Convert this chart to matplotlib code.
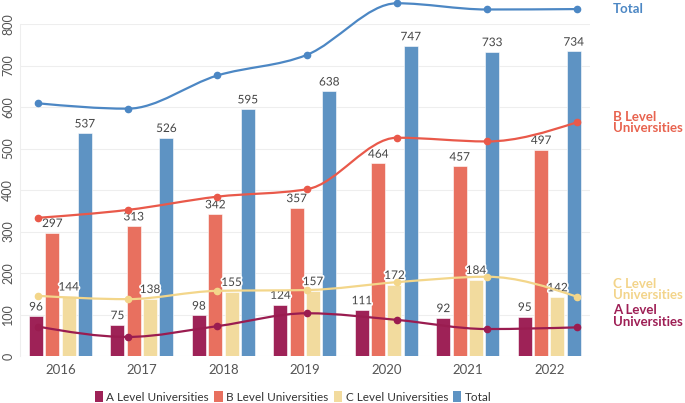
import numpy as np
import matplotlib
matplotlib.use("Agg")
import matplotlib.pyplot as plt
from matplotlib.path import Path
from matplotlib.patches import PathPatch, FancyBboxPatch
import matplotlib.patheffects as pe
import matplotlib.transforms as mtransforms
from matplotlib.patches import Patch

plt.rcParams['font.family'] = ['Lato', 'DejaVu Sans']

years = ['2016', '2017', '2018', '2019', '2020', '2021', '2022']
series_names = ['A Level Universities', 'B Level Universities', 'C Level Universities', 'Total']

# bar values
a_bars = [96, 75, 98, 124, 111, 92, 95]
b_bars = [297, 313, 342, 357, 464, 457, 497]
c_bars = [144, 138, 155, 157, 172, 184, 142]
total_bars = [537, 526, 595, 638, 747, 733, 734]

# line values (left axis units)
a_line = [71, 46, 72, 103, 87, 65, 69]
b_line = [333, 352, 384, 402, 526, 517, 563]
c_line = [145, 137, 157, 159, 178, 191, 143]
total_line = [609, 596, 676, 726, 850, 835, 836]

bar_colors = ['#9E2257', '#E8705F', '#F2DB9E', '#5E93C3']
line_colors = ['#9A1C50', '#E9594A', '#F3D68A', '#4C87C4']
label_colors = ['#9E1F55', '#E8634F', '#F3D48A', '#4C87C4']


def monotone_path(xs, ys):
    # d3 curveMonotoneX as cubic bezier segments
    xs = np.asarray(xs, float)
    ys = np.asarray(ys, float)
    n = len(xs)
    h = np.diff(xs)
    s = np.diff(ys) / h
    t = np.zeros(n)
    for i in range(1, n - 1):
        s0, s1 = s[i - 1], s[i]
        p = (s0 * h[i] + s1 * h[i - 1]) / (h[i - 1] + h[i])
        t[i] = (np.sign(s0) + np.sign(s1)) * min(abs(s0), abs(s1), 0.5 * abs(p))
    t[0] = (3 * s[0] - t[1]) / 2
    t[-1] = (3 * s[-1] - t[-2]) / 2
    verts = [(xs[0], ys[0])]
    codes = [Path.MOVETO]
    for i in range(n - 1):
        dx = h[i] / 3
        verts += [(xs[i] + dx, ys[i] + dx * t[i]),
                  (xs[i + 1] - dx, ys[i + 1] - dx * t[i + 1]),
                  (xs[i + 1], ys[i + 1])]
        codes += [Path.CURVE4] * 3
    return Path(verts, codes)


fig = plt.figure(figsize=(6.85, 4.03), dpi=100)
ax = fig.add_axes([0.0288, 0.1166, 0.8325, 0.8238])

x = np.arange(len(years))
width = 0.172
offsets = [-0.3, -0.1, 0.1, 0.3]
bars = [a_bars, b_bars, c_bars, total_bars]
for vals, off, col in zip(bars, offsets, bar_colors):
    rects = ax.bar(x + off, vals, width, color=col, edgecolor='white', linewidth=0.4, zorder=2)
    for r, v in zip(rects, vals):
        ax.text(r.get_x() + r.get_width() / 2, v + 9, str(v), ha='center', va='bottom',
                fontsize=8.5, color='#444444', zorder=6,
                path_effects=[pe.withStroke(linewidth=2.5, foreground='white')])

ax.set_xlim(-0.5, len(years) - 0.5)
ax.set_ylim(0, 800)
ax.set_yticks(range(0, 801, 100))
ax.set_xticks(x)
ax.set_xticklabels(years)
ax.grid(axis='y', color='#eeeeee', linewidth=0.8, zorder=0)
ax.set_axisbelow(True)
for sp in ['top', 'right', 'bottom']:
    ax.spines[sp].set_visible(False)
ax.spines['left'].set_color('#eeeeee')
ax.tick_params(axis='both', length=0, colors='#555555')
ax.tick_params(axis='x', labelsize=9.5, pad=6)
ax.tick_params(axis='y', labelsize=9, pad=4)
for lbl in ax.get_yticklabels():
    lbl.set_rotation(90)
    lbl.set_va('center')

# lines on their own x axis
ax2 = ax.twiny()
ax2.set_xlim(-0.2, 6.148)
ax2.axis('off')
lines = [a_line, b_line, c_line, total_line]
for vals, col in zip(lines, line_colors):
    patch = PathPatch(monotone_path(x, vals), facecolor='none', edgecolor=col,
                      linewidth=1.6, zorder=4, clip_on=False)
    ax2.add_patch(patch)
    ax2.plot(x, vals, 'o', color=col, markersize=4.5, zorder=5, clip_on=False)

# right-side labels
trans = mtransforms.blended_transform_factory(ax.transAxes, ax.transData)
label_texts = ['A Level\nUniversities', 'B Level\nUniversities', 'C Level\nUniversities', 'Total']
label_shift = [27, 0, 17, 0]
for txt, vals, col, sh in zip(label_texts, lines, label_colors, label_shift):
    ax.text(1.04, vals[-1] + sh, txt, transform=trans, ha='left', va='center',
            fontsize=9.5, fontweight='bold', color=col, linespacing=0.95, clip_on=False)

handles = [Patch(facecolor=c, edgecolor='none') for c in bar_colors]
fig.legend(handles, series_names, loc='center', bbox_to_anchor=(0.428, 0.015),
           ncol=4, frameon=False, fontsize=8.5, handlelength=0.7, handleheight=1.0,
           handletextpad=0.3, columnspacing=0.45, labelcolor='#333333')

fig.savefig('out.png', dpi=100)
